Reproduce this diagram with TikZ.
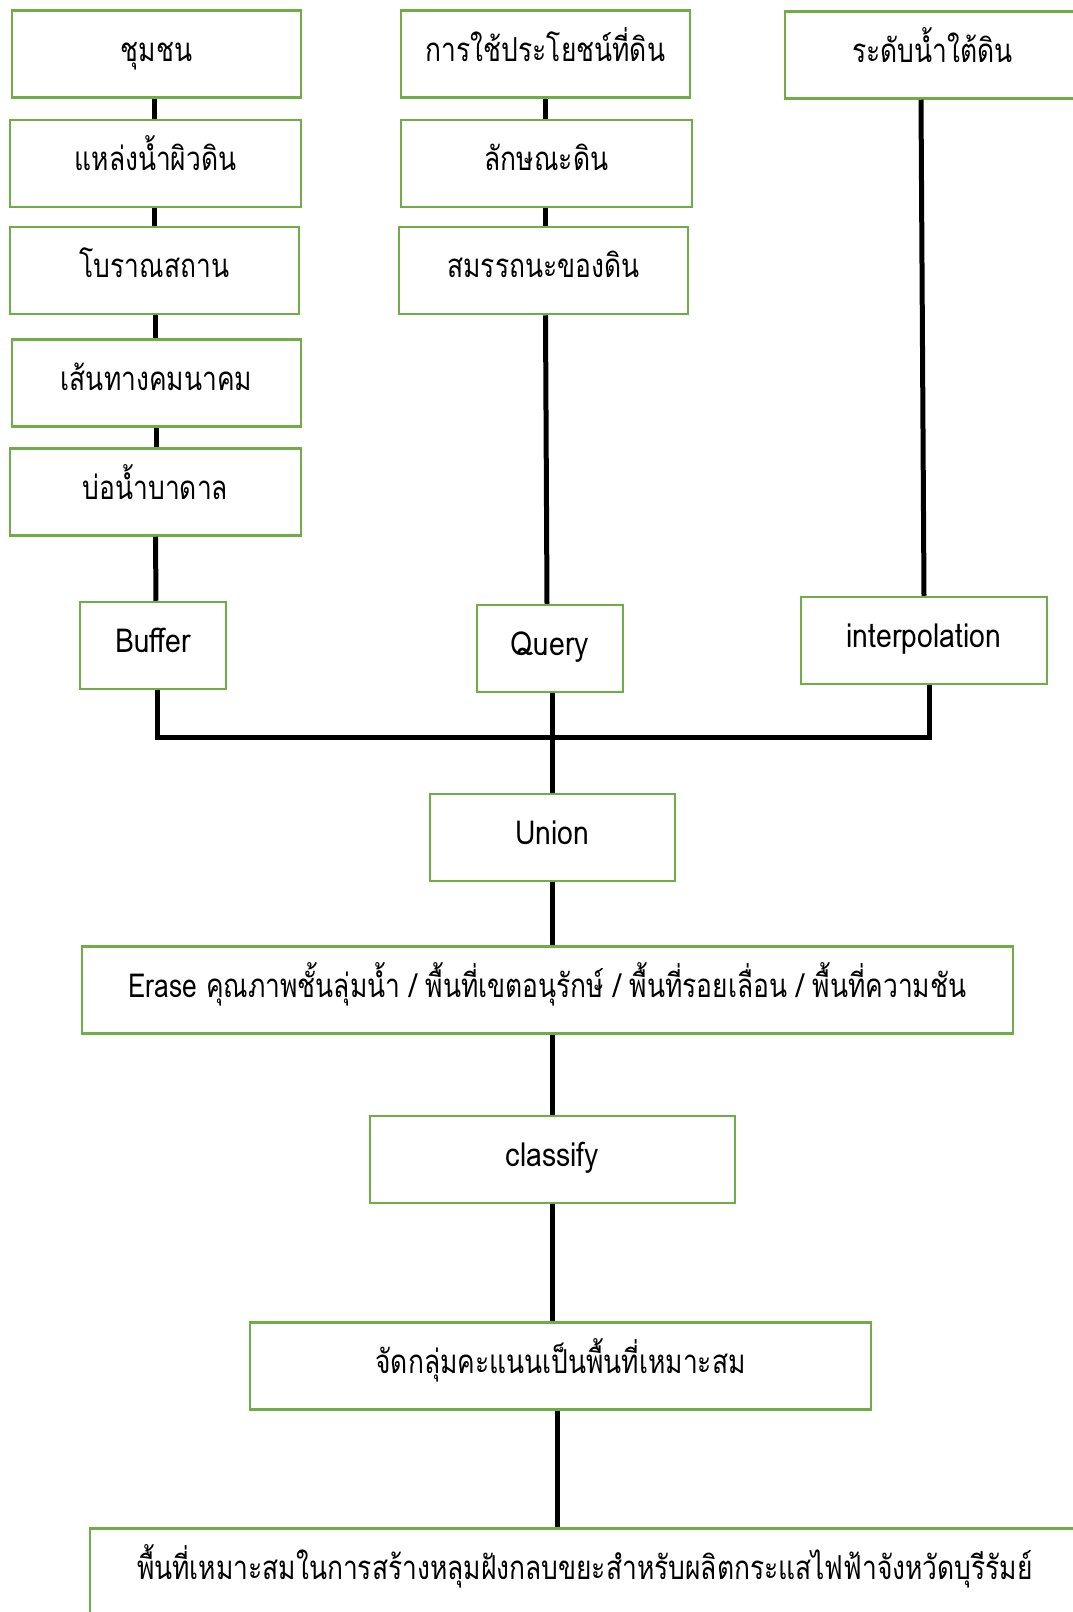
\documentclass[tikz,border=0pt]{standalone}
\usepackage{fontspec}
\newfontfamily\thaifont[Script=Thai,FakeStretch=0.8]{Loma}
\newfontfamily\latinfont[FakeStretch=0.86]{Loma}
\usepackage{tikz}
\usetikzlibrary{positioning, calc}
\definecolor{boxgreen}{RGB}{112,173,71}

\begin{document}
\begin{tikzpicture}[x=1pt, y=-1pt,
    layer/.style={rectangle, draw=boxgreen, line width=2.5pt, minimum height=87pt,
                  text height=20pt, text depth=6pt, inner sep=0pt},
    latin/.style={font=\latinfont\fontsize{33}{38}\selectfont},
    link/.style={line width=5pt},
    font=\thaifont\fontsize{33}{38}\selectfont
]
\useasboundingbox (0,0) rectangle (1072,1612);

% Column 1: buffer layers
\node[layer, minimum width=289pt] (community) at (156.5,54) {ชุมชน};
\node[layer, minimum width=291pt] (surfwater) at (155.5,163.5) {แหล่งน้ำผิวดิน};
\node[layer, minimum width=289pt] (ancient) at (154.5,270.5) {โบราณสถาน};
\node[layer, minimum width=289pt] (road) at (156.5,383) {เส้นทางคมนาคม};
\node[layer, minimum width=291pt] (well) at (155.5,492) {บ่อน้ำบาดาล};
\node[layer, latin, minimum width=146pt] (buffer) at (153,645.5) {Buffer};

% Column 2: soil layers
\node[layer, minimum width=289pt] (landuse) at (545.5,54) {การใช้ประโยชน์ที่ดิน};
\node[layer, minimum width=291pt] (soiltype) at (546.5,163.5) {ลักษณะดิน};
\node[layer, minimum width=289pt] (soilcap) at (543.5,270.5) {สมรรถนะของดิน};
\node[layer, latin, minimum width=146pt] (query) at (550,648.5) {Query};

% Column 3: groundwater
\node[layer, minimum width=295pt] (groundwater) at (932.5,55) {ระดับน้ำใต้ดิน};
\node[layer, latin, minimum width=246pt] (interp) at (924,640.5) {interpolation};

% Overlay steps
\node[layer, latin, minimum width=245pt] (union) at (552.5,837.5) {Union};
\node[layer, minimum width=931pt] (erase) at (547.5,990) {Erase คุณภาพชั้นลุ่มน้ำ / พื้นที่เขตอนุรักษ์ / พื้นที่รอยเลื่อน / พื้นที่ความชัน};
\node[layer, latin, minimum width=365pt] (classify) at (552.5,1159.5) {classify};
\node[layer, minimum width=621pt] (group) at (560.5,1366) {จัดกลุ่มคะแนนเป็นพื้นที่เหมาะสม};
\node[layer, minimum width=990pt] (result) at (585,1572) {พื้นที่เหมาะสมในการสร้างหลุมฝังกลบขยะสำหรับผลิตกระแสไฟฟ้าจังหวัดบุรีรัมย์};

% Links inside the columns
\draw[link] ([xshift=-2pt]community.south) -- ([xshift=-2pt]community.south |- surfwater.north);
\draw[link] ([xshift=-2pt]community.south |- surfwater.south) -- ([xshift=-2pt]community.south |- ancient.north);
\draw[link] ([xshift=-1pt]community.south |- ancient.south) -- ([xshift=-1pt]community.south |- road.north);
\draw[link] (community.south |- road.south) -- (community.south |- well.north);
\draw[link] (well.south) -- ([xshift=3pt]buffer.north);
\draw[link] (landuse.south) -- (landuse.south |- soiltype.north);
\draw[link] (landuse.south |- soiltype.south) -- (landuse.south |- soilcap.north);
\draw[link] ([xshift=2pt]soilcap.south) -- ([xshift=-3pt]query.north);
\draw[link] ([xshift=-3pt]groundwater.south -| interp.north) -- (interp.north);

% Join into union
\coordinate (bus) at (query.south |- 0,737);
\draw[link] ([xshift=4pt]buffer.south) |- (bus) -| ([xshift=5pt]interp.south);
\draw[link] (query.south -| union.north) -- (union.north);

% Chain downwards
\draw[link] (union.south) -- (union.south |- erase.north);
\draw[link] (erase.south -| classify.north) -- (classify.north);
\draw[link] (classify.south) -- (classify.south |- group.north);
\draw[link] ([xshift=-3pt]group.south) -- ([xshift=-3pt]group.south |- result.north);

\end{tikzpicture}
\end{document}
